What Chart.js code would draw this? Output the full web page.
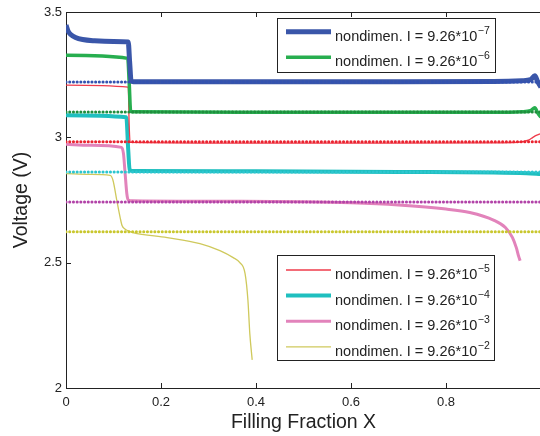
<!DOCTYPE html>
<html>
<head>
<meta charset="utf-8">
<script src="https://cdn.jsdelivr.net/npm/chart.js@4.4.1/dist/chart.umd.min.js"></script>
<style>
html, body { margin: 0; padding: 0; background: #fff; overflow: hidden; }
#wrap { width: 540px; height: 436px; overflow: hidden; }
</style>
</head>
<body>
<div id="wrap"><canvas id="voltChart" width="552" height="436"></canvas></div>
<script>
// current exponents, one per curve (I = 9.26*10^e)
const exponents = [-7, -6, -5, -4, -3, -2];

// equilibrium (dotted) voltages
const refVoltages = [3.221, 3.101, 2.982, 2.862, 2.742, 2.623];

const fillBlue = [0, 0.004, 0.01, 0.02, 0.035, 0.06, 0.1, 0.131, 0.134, 0.137, 0.142, 0.4, 0.7, 0.9, 0.96, 0.978, 0.987, 0.993, 1.0];
const voltBlue = [3.448, 3.425, 3.41, 3.398, 3.39, 3.385, 3.382, 3.38, 3.3, 3.225, 3.222, 3.222, 3.222, 3.223, 3.226, 3.23, 3.246, 3.222, 3.2];

const fillGreen = [0, 0.13, 0.133, 0.136, 0.14, 0.4, 0.7, 0.9, 0.96, 0.978, 0.987, 0.993, 1.0];
const voltGreen = [3.327, 3.315, 3.22, 3.105, 3.102, 3.1, 3.1, 3.1, 3.102, 3.106, 3.118, 3.098, 3.08];

const fillRed = [0, 0.131, 0.133, 0.135, 0.4, 0.7, 0.9, 0.95, 0.975, 0.983, 0.99, 1.0];
const voltRed = [3.208, 3.2, 3.05, 2.98, 2.977, 2.977, 2.978, 2.98, 2.99, 3.0, 3.008, 3.015];

const fillCyan = [0, 0.127, 0.131, 0.134, 0.14, 0.4, 0.7, 0.9, 0.97, 1.0];
const voltCyan = [3.088, 3.08, 2.95, 2.87, 2.866, 2.865, 2.862, 2.86, 2.857, 2.854];

const fillPink = [0, 0.05, 0.117, 0.121, 0.124, 0.128, 0.131, 0.14, 0.3, 0.5, 0.6, 0.7, 0.8, 0.85, 0.9, 0.925, 0.94, 0.948, 0.953, 0.956];
const voltPink = [2.972, 2.968, 2.96, 2.935, 2.868, 2.776, 2.75, 2.747, 2.745, 2.743, 2.739, 2.73, 2.714, 2.7, 2.67, 2.64, 2.6, 2.56, 2.525, 2.508];

const fillYellow = [0, 0.05, 0.093, 0.099, 0.107, 0.114, 0.118, 0.124, 0.131, 0.141, 0.213, 0.282, 0.324, 0.352, 0.366, 0.377, 0.383, 0.387, 0.392];
const voltYellow = [2.855, 2.852, 2.848, 2.828, 2.748, 2.68, 2.648, 2.634, 2.627, 2.62, 2.6, 2.576, 2.548, 2.52, 2.5, 2.456, 2.35, 2.216, 2.112];

const curveFills = [fillBlue, fillGreen, fillRed, fillCyan, fillPink, fillYellow];
const curveVolts = [voltBlue, voltGreen, voltRed, voltCyan, voltPink, voltYellow];

// styles
const solidColors = ["#3a56a9", "#27ae4f", "#ef3b4b", "#1fbfbf", "#e283bb", "#cfc95c"];
const solidWidths = [5, 3.5, 1.3, 4, 3, 1.3];
const dotColors = ["#3352b0", "#1f8e3d", "#ea2430", "#2cc6cf", "#b243a8", "#c9c72e"];

const font = "'Liberation Sans', Arial, Helvetica, sans-serif";

function toPoints(xs, ys) {
    return xs.map((x, i) => ({ x: x, y: ys[i] }));
}

const datasets = [];

// dotted reference lines first so they are drawn on top
refVoltages.forEach((v, i) => {
    datasets.push({
        label: "ref" + i,
        data: [{ x: 0, y: v }, { x: 1, y: v }],
        borderColor: dotColors[i],
        borderWidth: 3,
        borderDash: [0.1, 3.6],
        borderCapStyle: "round",
        pointRadius: 0
    });
});

exponents.forEach((e, i) => {
    datasets.push({
        label: "nondimen. I = 9.26*10",
        exponent: e,
        data: toPoints(curveFills[i], curveVolts[i]),
        borderColor: solidColors[i],
        borderWidth: solidWidths[i],
        cubicInterpolationMode: "monotone",
        borderJoinStyle: "round",
        pointRadius: 0
    });
});

// MATLAB style box with inward ticks
const boxTicks = {
    id: "boxTicks",
    afterDatasetsDraw(chart) {
        const ctx = chart.ctx;
        const a = chart.chartArea;
        const xs = chart.scales.x;
        const ys = chart.scales.y;
        ctx.save();
        ctx.strokeStyle = "#222";
        ctx.lineWidth = 1;
        ctx.beginPath();
        ctx.moveTo(a.left, a.top + 0.5);
        ctx.lineTo(a.right, a.top + 0.5);
        xs.ticks.forEach(t => {
            const px = Math.round(xs.getPixelForValue(t.value)) + 0.5;
            ctx.moveTo(px, a.bottom);
            ctx.lineTo(px, a.bottom - 5);
            ctx.moveTo(px, a.top);
            ctx.lineTo(px, a.top + 5);
        });
        ys.ticks.forEach(t => {
            const py = Math.round(ys.getPixelForValue(t.value)) + 0.5;
            ctx.moveTo(a.left, py);
            ctx.lineTo(a.left + 5, py);
        });
        ctx.stroke();
        ctx.restore();
    }
};

function drawLegendBox(chart, indices, left, top, width, height, firstY, stepY) {
    const ctx = chart.ctx;
    ctx.save();
    ctx.fillStyle = "#fff";
    ctx.fillRect(left, top, width, height);
    ctx.strokeStyle = "#222";
    ctx.lineWidth = 1;
    ctx.strokeRect(left + 0.5, top + 0.5, width, height);
    indices.forEach((idx, k) => {
        const ds = chart.data.datasets[refVoltages.length + idx];
        const y = firstY + k * stepY;
        ctx.strokeStyle = ds.borderColor;
        ctx.lineWidth = ds.borderWidth;
        ctx.beginPath();
        ctx.moveTo(left + 9, y);
        ctx.lineTo(left + 54, y);
        ctx.stroke();
        ctx.fillStyle = "#222";
        ctx.textBaseline = "alphabetic";
        ctx.font = "14.5px " + font;
        const base = y + 9;
        ctx.fillText(ds.label, left + 58, base);
        const w = ctx.measureText(ds.label).width;
        ctx.font = "10.5px " + font;
        ctx.fillText("\u2212" + Math.abs(ds.exponent), left + 58 + w + 0.5, base - 7);
    });
    ctx.restore();
}

const boxLegend = {
    id: "boxLegend",
    afterDraw(chart) {
        drawLegendBox(chart, [0, 1], 277, 18, 218, 54, 31.7, 25.6);
        drawLegendBox(chart, [2, 3, 4, 5], 277, 255, 217, 105, 270, 25.6);
    }
};

new Chart(document.getElementById("voltChart"), {
    type: "line",
    data: { datasets: datasets },
    plugins: [boxTicks, boxLegend],
    options: {
        responsive: false,
        animation: false,
        devicePixelRatio: 1,
        layout: { padding: { top: 12, right: 11, left: 0, bottom: 0 } },
        plugins: { legend: { display: false }, tooltip: { enabled: false } },
        scales: {
            x: {
                type: "linear",
                min: 0,
                max: 1,
                afterFit(scale) { scale.height = 48; },
                grid: { display: false, drawTicks: false },
                border: { display: true, color: "#222", width: 1 },
                ticks: {
                    stepSize: 0.2,
                    padding: 7,
                    color: "#222",
                    font: { family: font, size: 13 },
                    callback: v => (v >= 1 ? "" : String(Math.round(v * 10) / 10))
                },
                title: {
                    display: true,
                    text: "Filling Fraction X",
                    color: "#222",
                    font: { family: font, size: 19.5 },
                    padding: { top: 0, bottom: 2 }
                }
            },
            y: {
                min: 2,
                max: 3.5,
                afterFit(scale) { scale.width = 66; },
                grid: { display: false, drawTicks: false },
                border: { display: true, color: "#222", width: 1 },
                ticks: {
                    stepSize: 0.5,
                    padding: 4,
                    color: "#222",
                    font: { family: font, size: 13 },
                    callback: v => String(Math.round(v * 10) / 10)
                },
                title: {
                    display: true,
                    text: "Voltage (V)",
                    color: "#222",
                    font: { family: font, size: 19.5 },
                    padding: { top: 10, bottom: 0 }
                }
            }
        }
    }
});
</script>
</body>
</html>
